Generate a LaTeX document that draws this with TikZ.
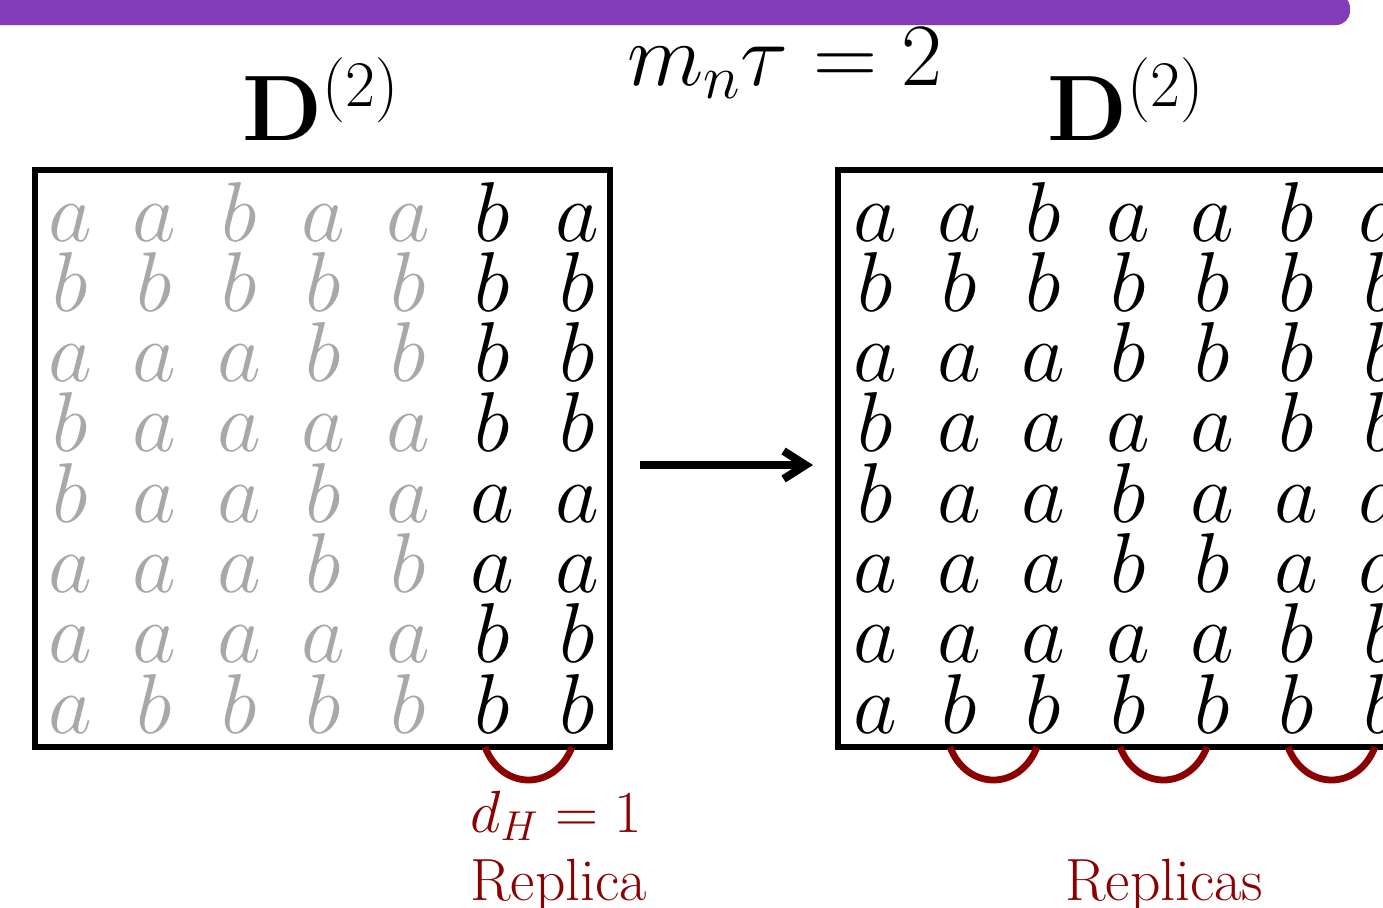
\documentclass[tikz,border=0pt]{standalone}
\usepackage{fix-cm}
\usetikzlibrary{arrows.meta}
\definecolor{barpurple}{RGB}{130,60,184}
\definecolor{darkred}{RGB}{139,0,0}
\definecolor{lettergray}{RGB}{168,168,168}
\begin{document}
\begin{tikzpicture}[x=0.5pt,y=-0.5pt,
  titletext/.style={inner sep=0pt, anchor=base, font=\fontsize{44.5}{52}\selectfont},
  dtext/.style={inner sep=0pt, anchor=base, font=\fontsize{46.5}{54}\selectfont},
  letter/.style={inner sep=0pt, anchor=base, font=\fontsize{42.5}{50}\selectfont},
  redtext/.style={inner sep=0pt, anchor=base west, text=darkred, font=\fontsize{29.8}{36}\selectfont},
  matbox/.style={draw=black, line width=3pt, inner sep=0pt, outer sep=0pt,
    minimum width=287.5pt, minimum height=288.5pt},
  arcline/.style={draw=darkred, line width=3.4pt},
  mainarrow/.style={line width=4pt, -{Straight Barb[length=11pt,width=14pt]},
    shorten <=15pt, shorten >=12.5pt}]
\clip (0,0) rectangle (1383,907);
\useasboundingbox (0,0) rectangle (1383,907);
% top bar
\fill[barpurple, rounded corners=7pt] (-40,-6) rectangle (1350,25);
% titles
\node[titletext] (title) at (785,85) {$m_n\tau = 2$};
\node[dtext] (dleft) at (321,140) {$\mathbf{D}^{(2)}$};
\node[dtext] (dright) at (1126,140) {$\mathbf{D}^{(2)}$};
% boxes
\node[matbox] (L) at (322.5,458.5) {};
\node[matbox] (R) at (1125.5,458.5) {};
% letters
\foreach \row [count=\r] in {{a,a,b,a,a,b,a},{b,b,b,b,b,b,b},{a,a,a,b,b,b,b},{b,a,a,a,a,b,b},{b,a,a,b,a,a,a},{a,a,a,b,b,a,a},{a,a,a,a,a,b,b},{a,b,b,b,b,b,b}}{
  \foreach \c [count=\k] in \row {
    \ifnum\k<6 \def\lc{lettergray}\else\def\lc{black}\fi
    \node[letter, text=\lc] (L-\r-\k) at ({70+(\k-1)*84.5},{241+(\r-1)*70.3}) {$\c$};
    \node[letter] (R-\r-\k) at ({875+(\k-1)*84.3},{241+(\r-1)*70.3}) {$\c$};
  }
}
% arrow
\draw[mainarrow] ([yshift=-3.25pt]L.east) -- ([yshift=-3.25pt]R.west);
% replica arcs
\foreach \s in {485,950,1120,1288}{
  \draw[arcline] (\s,747) .. controls (\s+17,791) and (\s+70,791) .. (\s+87,747);
}
% labels
\node[redtext] (dh) at (470,832) {$d_H = 1$};
\node[redtext] (rep) at (470,900) {Replica};
\node[redtext] (reps) at (1065,900) {Replicas};
\end{tikzpicture}
\end{document}
